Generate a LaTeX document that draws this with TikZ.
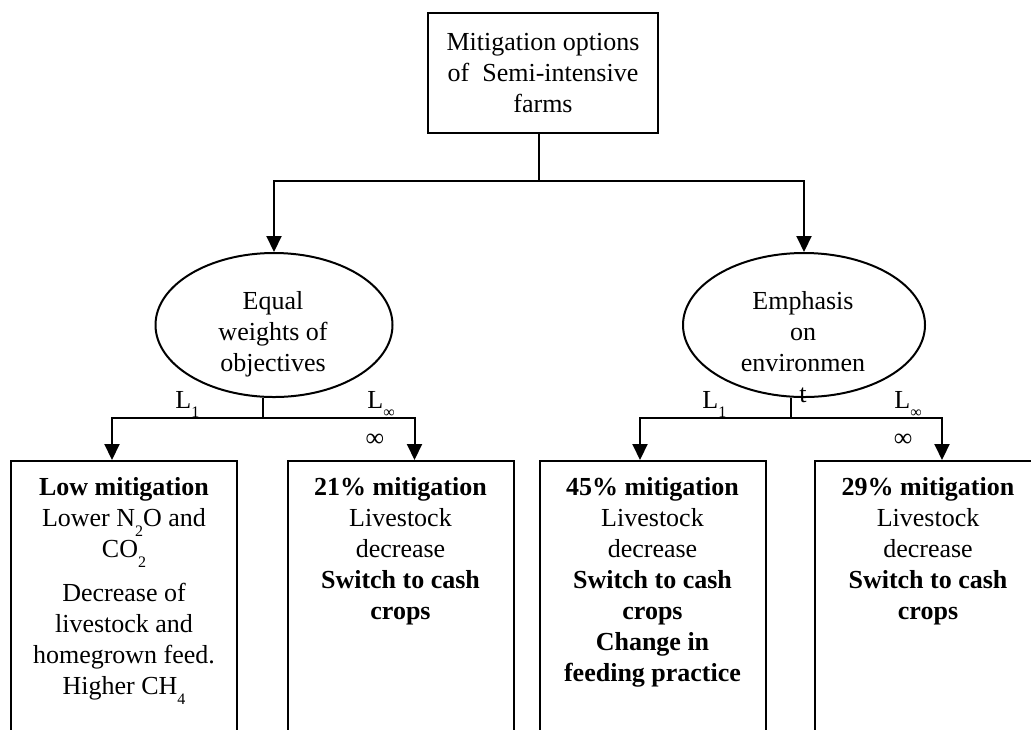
\documentclass[tikz,border=0pt]{standalone}
\usepackage{fontspec}
\setmainfont{Liberation Serif}
\usetikzlibrary{shapes.geometric, arrows.meta, positioning}

\newcommand{\dropsub}[2][5pt]{\raisebox{-#1}{\fontsize{8}{8}\selectfont #2}}

\begin{document}
\begin{tikzpicture}[
    x=0.5pt, y=-0.5pt,
    every node/.style={font=\fontsize{13}{15.5}\selectfont},
    rootbox/.style={rectangle, draw, line width=1pt, minimum width=115pt, minimum height=60pt, align=center, inner sep=0pt},
    weight/.style={ellipse, draw, line width=1pt, minimum height=72pt, inner sep=0pt},
    option/.style={rectangle, draw, line width=1pt, minimum width=113pt, minimum height=170pt, anchor=north, inner sep=0pt},
    txt/.style={align=center, inner sep=0pt, anchor=north},
    norm/.style={anchor=base west, inner sep=0pt},
    link/.style={line width=1pt},
    arrow/.style={-{Triangle[length=8pt, width=7.5pt]}, line width=1pt}
  ]

  \useasboundingbox (0,0) rectangle (1031,729);
  \clip (0,0) rectangle (1031,729);

  % Root
  \node[rootbox] (root) at (543,73) {Mitigation options\\of\enspace Semi-intensive\\farms};

  % Weightings
  \node[weight, minimum width=118.5pt] (equal) at (274,325) {};
  \node[weight, minimum width=121pt] (envir) at (804,325) {};
  \node[txt] (equaltext) at (273,291) {Equal\\weights of\\objectives};
  \node[txt] (envirtext) at (803,291) {Emphasis\\on\\environmen\\t};

  % Mitigation options
  \node[option] (lowmit) at (124,460) {};
  \node[option] (mit21) at (400.5,460) {};
  \node[option] (mit45) at (652.5,460) {};
  \node[option] (mit29) at (928,460) {};

  \node[txt, below=8.5pt of lowmit.north] (lowmittext) {\textbf{Low mitigation}\\Lower N\dropsub{2}O and\\CO\dropsub{2}\\[6.5pt]Decrease of\\livestock and\\homegrown feed.\\Higher CH\dropsub{4}};
  \node[txt, below=8.5pt of mit21.north] (mit21text) {\textbf{21\% mitigation}\\Livestock\\decrease\\\textbf{Switch to cash}\\\textbf{crops}};
  \node[txt, below=8.5pt of mit45.north] (mit45text) {\textbf{45\% mitigation}\\Livestock\\decrease\\\textbf{Switch to cash}\\\textbf{crops}\\\textbf{Change in}\\\textbf{feeding practice}};
  \node[txt, below=8.5pt of mit29.north] (mit29text) {\textbf{29\% mitigation}\\Livestock\\decrease\\\textbf{Switch to cash}\\\textbf{crops}};

  % Connectors
  \coordinate (split) at (539,181);
  \draw[link] (root.south -| split) -- (split);
  \draw[arrow] (split) -| (equal.north);
  \draw[arrow] (split) -| (envir.north);

  \coordinate (lsplit) at (263,418);
  \draw[link] (lsplit |- equal.south) -- (lsplit);
  \draw[arrow] (lsplit) -| ([xshift=-6pt]lowmit.north);
  \draw[arrow] (lsplit) -| ([xshift=7pt]mit21.north);

  \coordinate (rsplit) at (791,418);
  \draw[link] (rsplit |- envir.south) -- (rsplit);
  \draw[arrow] (rsplit) -| ([xshift=-6.25pt]mit45.north);
  \draw[arrow] (rsplit) -| ([xshift=7pt]mit29.north);

  % Norm labels
  \node[norm] (lonel) at (175,408) {L\dropsub[4.5pt]{1}};
  \node[norm] (linfl) at (367,408) {L\dropsub[4.5pt]{∞}};
  \node (infl) at (375,440) {∞};
  \node[norm] (loner) at (702,408) {L\dropsub[4.5pt]{1}};
  \node[norm] (linfr) at (894,408) {L\dropsub[4.5pt]{∞}};
  \node (infr) at (903,440) {∞};

\end{tikzpicture}
\end{document}
